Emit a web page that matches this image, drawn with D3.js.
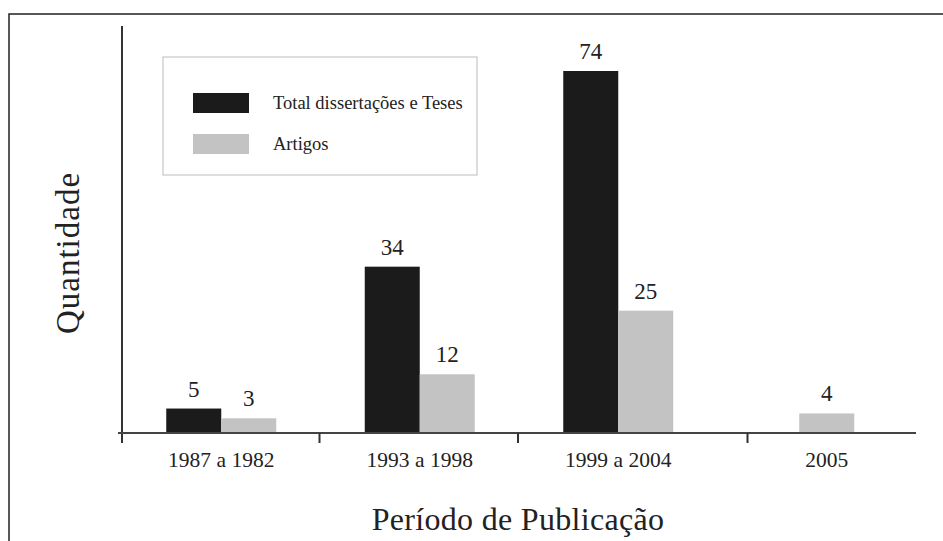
<!DOCTYPE html>
<html><head><meta charset="utf-8">
<script src="https://cdn.jsdelivr.net/npm/d3@7/dist/d3.min.js"></script>
<style>body{margin:0;background:#fff}svg{display:block}</style>
</head><body><svg width="943" height="541"></svg>
<script>
const categories = ["1987 a 1982", "1993 a 1998", "1999 a 2004", "2005"];
const seriesNames = ["Total dissertações e Teses", "Artigos"];
const teses = [5, 34, 74, null];
const artigos = [3, 12, 25, 4];
const xTitle = "Período de Publicação";
const yTitle = "Quantidade";

const svg = d3.select("svg");
const font = "'Liberation Serif', 'Times New Roman', serif";
const colors = ["#1b1b1b", "#c3c3c3"];

// frame
svg.append("path").attr("d", "M9,541V14H943").attr("fill", "none").attr("stroke", "#222").attr("stroke-width", 1.5);

const x = d3.scaleBand().domain(categories).range([122, 916]);
const y = d3.scaleLinear().domain([0, 74]).range([433, 71]);
const bw = 55;

const data = [];
categories.forEach((c, i) => {
  const vals = [teses[i], artigos[i]];
  const present = vals.map((v, k) => ({v, k})).filter(d => d.v != null);
  const c0 = x(c) + x.bandwidth() / 2;
  const start = present.length > 1 ? c0 - bw : c0 - bw / 2 + 10;
  present.forEach((d, j) => data.push({cat: c, k: d.k, v: d.v, x0: start + j * bw}));
});

svg.selectAll("rect.bar").data(data).join("rect").attr("class", "bar")
  .attr("x", d => d.x0).attr("width", bw)
  .attr("y", d => y(d.v)).attr("height", d => y(0) - y(d.v))
  .attr("fill", d => colors[d.k]);

svg.selectAll("text.val").data(data).join("text").attr("class", "val")
  .attr("x", d => d.x0 + bw / 2).attr("y", d => y(d.v) - 12)
  .attr("text-anchor", "middle").attr("font-family", font).attr("font-size", 23).attr("fill", "#222")
  .text(d => d.v);

// axes
svg.append("line").attr("x1", 122).attr("x2", 122).attr("y1", 26).attr("y2", 443).attr("stroke", "#333").attr("stroke-width", 2);
svg.append("line").attr("x1", 118).attr("x2", x.range()[1]).attr("y1", 433).attr("y2", 433).attr("stroke", "#444").attr("stroke-width", 2);
const tickPos = categories.slice(1).map((c, i) => i < 2 ? x(c) - 1 : x(c) + 30);
svg.selectAll("line.tick").data(tickPos).join("line").attr("class", "tick")
  .attr("x1", d => d).attr("x2", d => d).attr("y1", 433).attr("y2", 443)
  .attr("stroke", "#333").attr("stroke-width", 2);

svg.selectAll("text.cat").data(categories).join("text").attr("class", "cat")
  .attr("x", c => {
    const own = data.filter(d => d.cat === c);
    return own.length > 1 ? x(c) + x.bandwidth() / 2 : own[0].x0 + bw / 2;
  })
  .attr("y", 467).attr("text-anchor", "middle").attr("font-family", font).attr("font-size", 21.5).attr("fill", "#222")
  .text(d => d);

svg.append("text").attr("x", 518).attr("y", 530).attr("text-anchor", "middle")
  .attr("font-family", font).attr("font-size", 32).attr("letter-spacing", 0.3).attr("fill", "#222").text(xTitle);
svg.append("text").attr("transform", "translate(79,253) rotate(-90)").attr("text-anchor", "middle")
  .attr("font-family", font).attr("font-size", 33).attr("letter-spacing", 1).attr("fill", "#222").text(yTitle);

// legend
const lg = svg.append("g");
lg.append("rect").attr("x", 163).attr("y", 57).attr("width", 314).attr("height", 118)
  .attr("fill", "#fff").attr("stroke", "#bbb").attr("stroke-width", 1);
seriesNames.forEach((s, i) => {
  lg.append("rect").attr("x", 193).attr("y", 93 + i * 41).attr("width", 56).attr("height", 20).attr("fill", colors[i]);
  lg.append("text").attr("x", 273).attr("y", 109 + i * 41).attr("font-family", font).attr("font-size", 18.5).attr("fill", "#222").text(s);
});
</script></body></html>
